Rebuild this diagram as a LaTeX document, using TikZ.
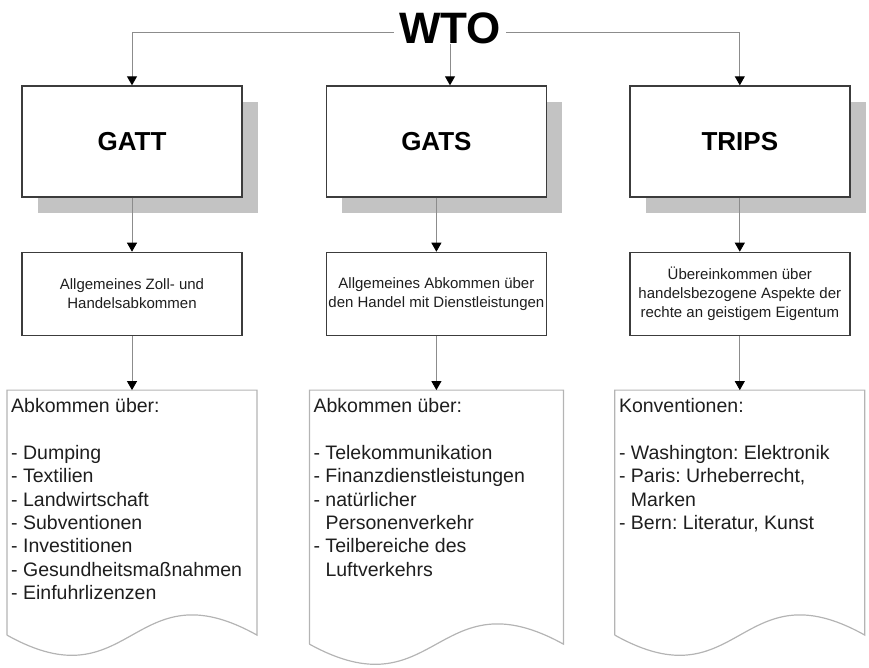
\documentclass[tikz,border=0pt]{standalone}
\usepackage{fontspec}
\setmainfont{Liberation Sans}
\usetikzlibrary{arrows.meta,positioning,shadows}
\frenchspacing
\definecolor{framegray}{HTML}{3C3C3C}
\definecolor{linegray}{HTML}{8C8C8C}
\definecolor{pagegray}{HTML}{B4B4B4}
\definecolor{shadowgray}{HTML}{C3C3C3}
\definecolor{inkgray}{HTML}{1E1E1E}
\tikzset{
    %Define standard arrow tip
    >={Triangle[width=10pt,length=9pt,color=black]},
    %Define style for boxes
    titlebox/.style={
           rectangle,
           draw=framegray, line width=1.4pt,
           fill=white,
           minimum width=220pt,
           minimum height=111pt,
           font=\fontsize{26}{30}\selectfont\bfseries,
           text=black,
           drop shadow={shadow xshift=16pt, shadow yshift=-16pt, fill=shadowgray, opacity=1}},
    infobox/.style={
           rectangle,
           draw=framegray, line width=1.4pt,
           minimum width=220pt,
           minimum height=83pt,
           inner sep=1pt,
           font=\fontsize{15}{19}\selectfont,
           text=inkgray,
           align=center},
    docbox/.style={
           rectangle,
           outer sep=0pt,
           minimum width=250pt,
           minimum height=245pt},
    doctext/.style={
           anchor=north west,
           inner xsep=4pt,
           inner ysep=8pt,
           font=\fontsize{19.5}{23.4}\selectfont,
           text=inkgray,
           align=left},
    docline/.style={draw=pagegray, line width=1.2pt},
    % Define arrow style
    pil/.style={
           ->,
           draw=linegray,
           line width=0.9pt}
}
% page outline with wavy lower edge
\newcommand{\wavedoc}[1]{%
  \draw[docline] (#1.south west) -- (#1.north west) -- (#1.north east) -- (#1.south east)
    .. controls ([yshift=70pt]#1.south) and ([yshift=-70pt]#1.south) .. (#1.south west);}

\begin{document}
\begin{tikzpicture}[x=1pt,y=-1pt,node distance=54pt]
\useasboundingbox (0,0) rectangle (869,667);
\node[font=\fontsize{44}{48}\selectfont\bfseries, inner xsep=5pt, inner ysep=0pt](wto) at (450,28) {WTO};
\node[titlebox](gatt) at (132,141.5) {GATT};
\node[titlebox, right=83pt of gatt](gats) {GATS};
\node[titlebox, right=82pt of gats](trips) {TRIPS};
\node[infobox, below=of gatt](gattinfo) {Allgemeines Zoll- und\\Handelsabkommen};
\node[infobox, below=of gats](gatsinfo) {Allgemeines Abkommen über\\den Handel mit Dienstleistungen};
\node[infobox, below=of trips](tripsinfo) {Übereinkommen über\\handelsbezogene Aspekte der\\rechte an geistigem Eigentum};
\node[docbox, below=of gattinfo](gattdoc) {};
\node[docbox, below=of gatsinfo, minimum width=254pt, minimum height=254pt](gatsdoc) {};
\node[docbox, below=of tripsinfo](tripsdoc) {};
\node[doctext](gattlist) at (gattdoc.north west) {Abkommen über:\\[23.4pt]- Dumping\\- Textilien\\- Landwirtschaft\\- Subventionen\\- Investitionen\\- Gesundheitsmaßnahmen\\- Einfuhrlizenzen};
\node[doctext](gatslist) at (gatsdoc.north west) {Abkommen über:\\[23.4pt]- Telekommunikation\\- Finanzdienstleistungen\\- natürlicher\\\hphantom{- }Personenverkehr\\- Teilbereiche des\\\hphantom{- }Luftverkehrs};
\node[doctext](tripslist) at (tripsdoc.north west) {Konventionen:\\[23.4pt]- Washington: Elektronik\\- Paris: Urheberrecht,\\\hphantom{- }Marken\\- Bern: Literatur, Kunst};
\wavedoc{gattdoc}
\wavedoc{gatsdoc}
\wavedoc{tripsdoc}
\draw[pil] ([yshift=-4pt]wto.west) -| (gatt.north);
\draw[pil] (wto.south) -- (wto.south |- gats.north);
\draw[pil] ([yshift=-4pt]wto.east) -| (trips.north);
\path[pil]
	(gatt) edge (gattinfo)
	(gats) edge (gatsinfo)
	(trips) edge (tripsinfo)
	(gattinfo) edge (gattdoc)
	(gatsinfo) edge (gatsdoc)
	(tripsinfo) edge (tripsdoc);
\end{tikzpicture}
\end{document}
